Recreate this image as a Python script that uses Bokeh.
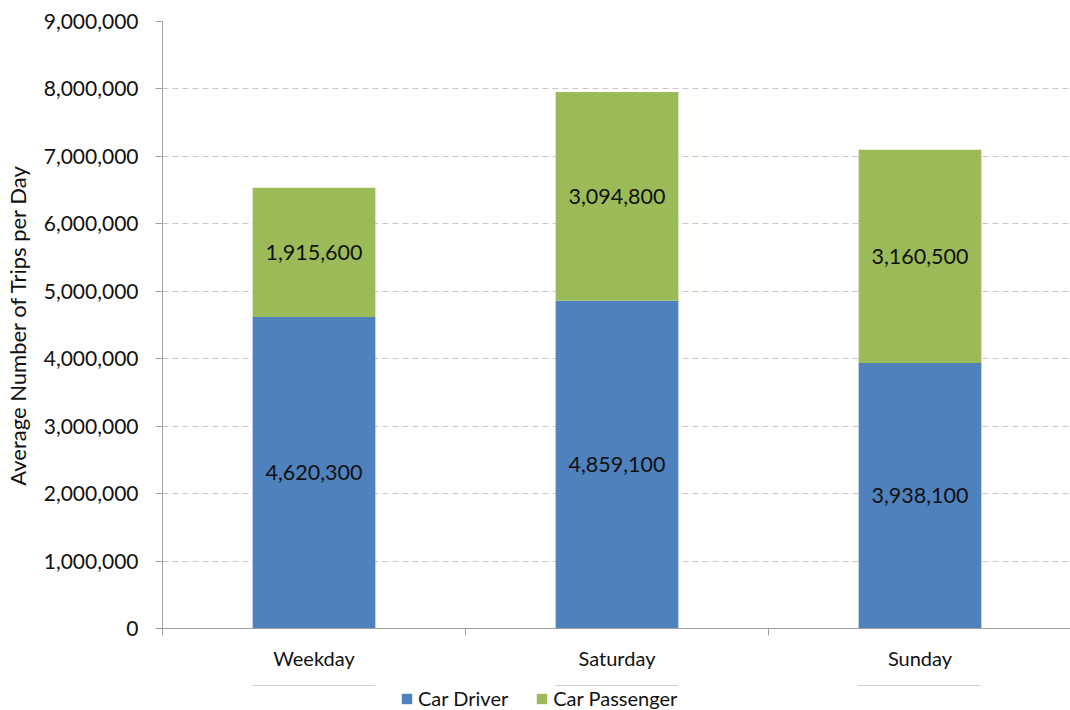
from bokeh.plotting import figure
from bokeh.layouts import column
from bokeh.models import (ColumnDataSource, Range1d, FixedTicker, NumeralTickFormatter,
                          Legend, LegendItem, LabelSet)
from bokeh.core.properties import value
from bokeh.embed import file_html
from bokeh.resources import INLINE

categories = ["Weekday", "Saturday", "Sunday"]
series_names = ["Car Driver", "Car Passenger"]
car_driver = [4620300, 4859100, 3938100]
car_passenger = [1915600, 3094800, 3160500]
y_ticks = [0, 1000000, 2000000, 3000000, 4000000, 5000000, 6000000, 7000000, 8000000, 9000000]

FONT = "Lato"
BLUE = "#4F81BD"
GREEN = "#9BBB59"
TXT = "#111111"
AXIS = "#a0a0a0"

xs = [i + 0.5 for i in range(len(categories))]
top1 = car_driver
top2 = [a + b for a, b in zip(car_driver, car_passenger)]
src = ColumnDataSource(dict(
    x=xs, top1=top1, top2=top2,
    mid1=[t / 2 for t in top1],
    mid2=[a + b / 2 for a, b in zip(car_driver, car_passenger)],
    lab1=[f"{v:,}" for v in car_driver],
    lab2=[f"{v:,}" for v in car_passenger],
))

p = figure(frame_width=909, frame_height=607, output_backend="svg", toolbar_location=None,
           x_range=Range1d(0, len(categories)), y_range=Range1d(0, max(y_ticks)),
           min_border_left=161, min_border_top=21, min_border_right=0, min_border_bottom=57)
p.outline_line_color = None
p.background_fill_color = "white"
p.border_fill_color = "white"

p.vbar(x="x", bottom=0, top="top1", width=0.405, source=src, fill_color=BLUE, line_color=None)
p.vbar(x="x", bottom="top1", top="top2", width=0.405, source=src, fill_color=GREEN, line_color=None)

for ycol, tcol in (("mid1", "lab1"), ("mid2", "lab2")):
    p.add_layout(LabelSet(x="x", y=ycol, text=tcol, source=src, text_align="center",
                          text_baseline="middle", text_font=value(FONT),
                          text_font_size="21.5px", text_color=TXT))

# y axis
p.yaxis.ticker = FixedTicker(ticks=y_ticks)
p.yaxis.formatter = NumeralTickFormatter(format="0,0")
p.yaxis.axis_label = "Average Number of Trips per Day"
p.yaxis.axis_label_text_font = FONT
p.yaxis.axis_label_text_font_style = "normal"
p.yaxis.axis_label_text_font_size = "22px"
p.yaxis.axis_label_text_color = TXT
p.yaxis.axis_label_standoff = 10
p.yaxis.major_label_text_font = FONT
p.yaxis.major_label_text_font_size = "21px"
p.yaxis.major_label_text_color = TXT
p.yaxis.major_label_standoff = 17
p.yaxis.axis_line_color = AXIS
p.yaxis.major_tick_line_color = AXIS
p.yaxis.major_tick_out = 7
p.yaxis.major_tick_in = 0
p.yaxis.minor_tick_line_color = None

# x axis: labels at category centres, tick marks at category boundaries
p.xaxis.ticker = FixedTicker(ticks=xs, minor_ticks=list(range(len(categories) + 1)))
p.xaxis.major_label_overrides = {x: c for x, c in zip(xs, categories)}
p.xaxis.major_label_text_font = FONT
p.xaxis.major_label_text_font_size = "20px"
p.xaxis.major_label_text_color = TXT
p.xaxis.major_label_standoff = 10
p.xaxis.major_tick_line_color = None
p.xaxis.minor_tick_line_color = AXIS
p.xaxis.minor_tick_out = 7
p.xaxis.minor_tick_in = 0
p.xaxis.axis_line_color = AXIS

p.xgrid.grid_line_color = None
p.ygrid.grid_line_color = "#c8c8c8"
p.ygrid.grid_line_dash = "6 4"

# legend strip below the chart (separate small figure; its bars lie outside its view)
leg = figure(width=1070, height=25, output_backend="svg", toolbar_location=None,
             x_range=Range1d(0, len(categories)), y_range=Range1d(-2, -1),
             x_axis_location=None, y_axis_location=None, min_border=0)
leg.outline_line_color = None
leg.xgrid.grid_line_color = None
leg.ygrid.grid_line_color = None
l1 = leg.vbar(x="x", bottom=0, top="top1", width=0.405, source=src,
              fill_color=BLUE, line_color=None)
l2 = leg.vbar(x="x", bottom="top1", top="top2", width=0.405, source=src,
              fill_color=GREEN, line_color=None)
legend = Legend(items=[LegendItem(label=series_names[0], renderers=[l1]),
                       LegendItem(label=series_names[1], renderers=[l2])],
                orientation="horizontal", location=(238, 0),
                label_text_font=FONT, label_text_font_size="20px", label_text_color=TXT,
                glyph_width=13, glyph_height=13, spacing=27, label_standoff=5,
                border_line_color=None, background_fill_alpha=0, padding=0, margin=0)
leg.add_layout(legend, "center")

layout = column(p, leg, spacing=0)
open("out.html", "w").write(file_html(layout, INLINE))
